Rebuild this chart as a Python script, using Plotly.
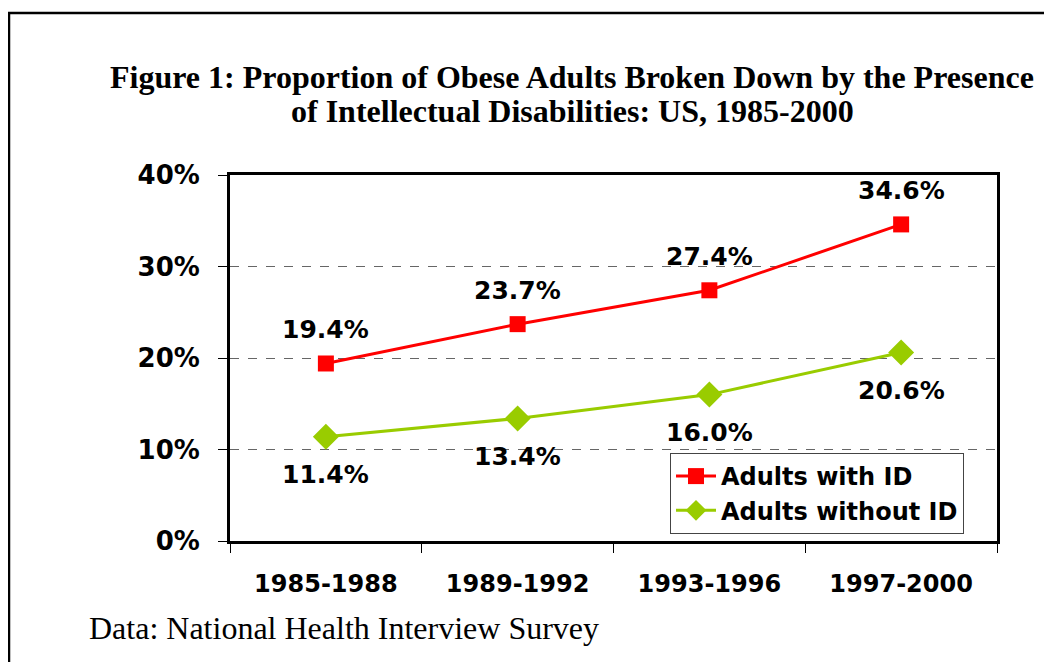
import plotly.graph_objects as go

categories = ["1985-1988", "1989-1992", "1993-1996", "1997-2000"]
with_id = [0.194, 0.237, 0.274, 0.346]
without_id = [0.114, 0.134, 0.160, 0.206]
with_labels = ["19.4%", "23.7%", "27.4%", "34.6%"]
without_labels = ["11.4%", "13.4%", "16.0%", "20.6%"]
y_ticks = [0, 0.1, 0.2, 0.3, 0.4]
y_ticklabels = ["0%", "10%", "20%", "30%", "40%"]
title_lines = ["Figure 1: Proportion of Obese Adults Broken Down by the Presence",
               "of Intellectual Disabilities: US, 1985-2000"]
caption = "Data: National Health Interview Survey"

W, H = 1052, 662
OFF = 8  # page body margin
L, R, T, B = 230 - OFF, 997 - OFF, 175 - OFF, 541 - OFF
pw, ph = R - L, B - T

def px(x):
    return (x - OFF - L) / pw

def py(y):
    return (B - (y - OFF)) / ph

bold = dict(family="Verdana, DejaVu Sans, sans-serif", color="black", weight="bold")
serif = "Liberation Serif, Times New Roman, serif"

fig = go.Figure()
fig.add_trace(go.Scatter(
    x=categories, y=with_id, name="Adults with ID", mode="lines+markers",
    legendgroup="a",
    line=dict(color="#FF0000", width=3),
    marker=dict(symbol="square", size=16, color="#FF0000"),
))
fig.add_trace(go.Scatter(
    x=categories, y=without_id, name="Adults without ID", mode="lines+markers",
    legendgroup="b",
    line=dict(color="#99CC00", width=3),
    marker=dict(symbol="diamond", size=20, color="#99CC00"),
))

annotations = []
for c, v, t in zip(categories, with_id, with_labels):
    annotations.append(dict(x=c, y=v, xref="x", yref="y", text=t, showarrow=False,
                            yshift=34, font=dict(size=25, **bold)))
for c, v, t in zip(categories, without_id, without_labels):
    annotations.append(dict(x=c, y=v, xref="x", yref="y", text=t, showarrow=False,
                            yshift=-38, font=dict(size=25, **bold)))

for line, yc in zip(title_lines, [77, 111]):
    annotations.append(dict(
        x=px(572), y=py(yc), xref="paper", yref="paper", showarrow=False,
        text=line,
        font=dict(family=serif, size=32, color="black", weight="bold"),
        xanchor="center", yanchor="middle",
    ))
annotations.append(dict(
    x=px(87), y=py(628), xref="paper", yref="paper", showarrow=False,
    text=caption,
    font=dict(family=serif, size=32, color="black"),
    xanchor="left", yanchor="middle",
))

fig.update_layout(
    width=W, height=H,
    margin=dict(l=L, r=W - R, t=T, b=H - B, autoexpand=False),
    paper_bgcolor="white", plot_bgcolor="white",
    showlegend=True,
    legend=dict(
        x=px(670), y=py(453), xanchor="left", yanchor="top",
        bgcolor="white", bordercolor="#444", borderwidth=1,
        font=dict(size=24, **bold),
        itemwidth=40, tracegroupgap=0,
    ),
    annotations=annotations,
    shapes=[dict(type="rect", xref="paper", yref="paper",
                 x0=px(9), x1=px(1100), y0=py(720), y1=py(13),
                 line=dict(color="black", width=2.5), layer="below")],
)
fig.update_xaxes(
    range=[-0.5, 3.5], showline=True, mirror=True, linecolor="black", linewidth=3,
    ticks="outside", tickson="boundaries", ticklen=9, tickcolor="black", tickwidth=1,
    showgrid=False, tickfont=dict(size=24, **bold), ticklabelstandoff=19,
)
fig.update_yaxes(
    range=[0, 0.4], tickvals=y_ticks, ticktext=y_ticklabels,
    showline=True, mirror=True, linecolor="black", linewidth=3,
    ticks="outside", ticklen=9, tickcolor="black", tickwidth=1,
    showgrid=True, gridcolor="#666", griddash="dash", gridwidth=1,
    zeroline=False, tickfont=dict(size=26, **bold), ticklabelstandoff=13,
)
fig.write_html("out.html")
